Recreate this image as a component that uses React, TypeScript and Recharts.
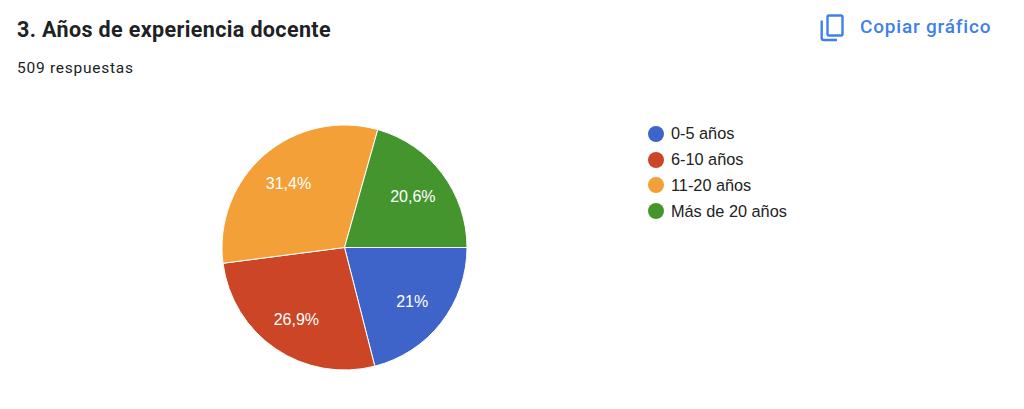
import { PieChart, Pie, Cell, Legend } from "recharts";

const categories = ["0-5 años", "6-10 años", "11-20 años", "Más de 20 años"];
const percents = [21, 26.9, 31.4, 20.6];
const COLORS = ["#3f64c9", "#cb4526", "#f2a037", "#45952f"];

const pieData = categories.map((name, i) => ({ name, value: percents[i] }));

const RAD = Math.PI / 180;
const LINK = "#4080ea";

function renderLabel({ cx, cy, midAngle, outerRadius, value }: any) {
  const r = outerRadius * 0.7;
  const x = cx + r * Math.cos(-midAngle * RAD);
  const y = cy + r * Math.sin(-midAngle * RAD) + 1;
  return (
    <text
      x={x}
      y={y}
      fill="#fff"
      textAnchor="middle"
      dominantBaseline="central"
      fontFamily="Liberation Sans, Arial, sans-serif"
      fontSize={16}
    >
      {String(value).replace(".", ",")}%
    </text>
  );
}

function renderLegend({ payload }: any) {
  return (
    <div>
      {payload.map((entry: any) => (
        <div key={entry.value} style={{ display: "flex", alignItems: "center", height: 25.8 }}>
          <span
            style={{
              width: 16,
              height: 16,
              borderRadius: "50%",
              background: entry.color,
              marginRight: 7,
            }}
          />
          <span style={{ fontFamily: "Liberation Sans, Arial, sans-serif", fontSize: 16.3, color: "#222" }}>
            {entry.value}
          </span>
        </div>
      ))}
    </div>
  );
}

export default function App() {
  return (
    <div style={{ position: "absolute", left: 0, top: 0, width: 1024, height: 409, background: "#fff", overflow: "hidden" }}>
      <div
        style={{
          position: "absolute",
          left: 17,
          top: 17,
          fontFamily: "Roboto, sans-serif",
          fontWeight: 700,
          fontSize: 21.5,
          letterSpacing: 0.37,
          lineHeight: "26px",
          color: "#202124",
        }}
      >
        3. Años de experiencia docente
      </div>
      <div
        style={{
          position: "absolute",
          left: 17,
          top: 58,
          fontFamily: "Roboto, sans-serif",
          fontSize: 15.5,
          letterSpacing: 0.75,
          lineHeight: "20px",
          color: "#202124",
        }}
      >
        509 respuestas
      </div>
      <svg style={{ position: "absolute", left: 820, top: 14 }} width={25} height={28} viewBox="0 0 25 28" fill="none" stroke={LINK} strokeWidth={2.4}>
        <rect x={7.5} y={1.5} width={15} height={20} rx={1.5} />
        <path d="M1.7 6.5 V24 a2 2 0 0 0 2 2 H17" />
      </svg>
      <div
        style={{
          position: "absolute",
          left: 860,
          top: 15,
          fontFamily: "Roboto, sans-serif",
          fontWeight: 500,
          fontSize: 19,
          letterSpacing: 0.8,
          lineHeight: "24px",
          color: LINK,
        }}
      >
        Copiar gráfico
      </div>
      <PieChart width={1024} height={409} margin={{ top: 0, right: 0, bottom: 0, left: 0 }} style={{ position: "absolute", left: 0, top: 0 }}>
        <Pie
          data={pieData}
          dataKey="value"
          nameKey="name"
          cx={344.5}
          cy={247.5}
          outerRadius={122.5}
          startAngle={0}
          endAngle={-360}
          stroke="#fff"
          strokeWidth={1}
          label={renderLabel}
          labelLine={false}
          isAnimationActive={false}
        >
          {pieData.map((d, i) => (
            <Cell key={d.name} fill={COLORS[i]} />
          ))}
        </Pie>
        <Legend
          layout="horizontal"
          verticalAlign="middle"
          align="center"
          itemSorter={null}
          content={renderLegend}
          wrapperStyle={{ left: 648, top: 121, width: 200 }}
        />
      </PieChart>
    </div>
  );
}
